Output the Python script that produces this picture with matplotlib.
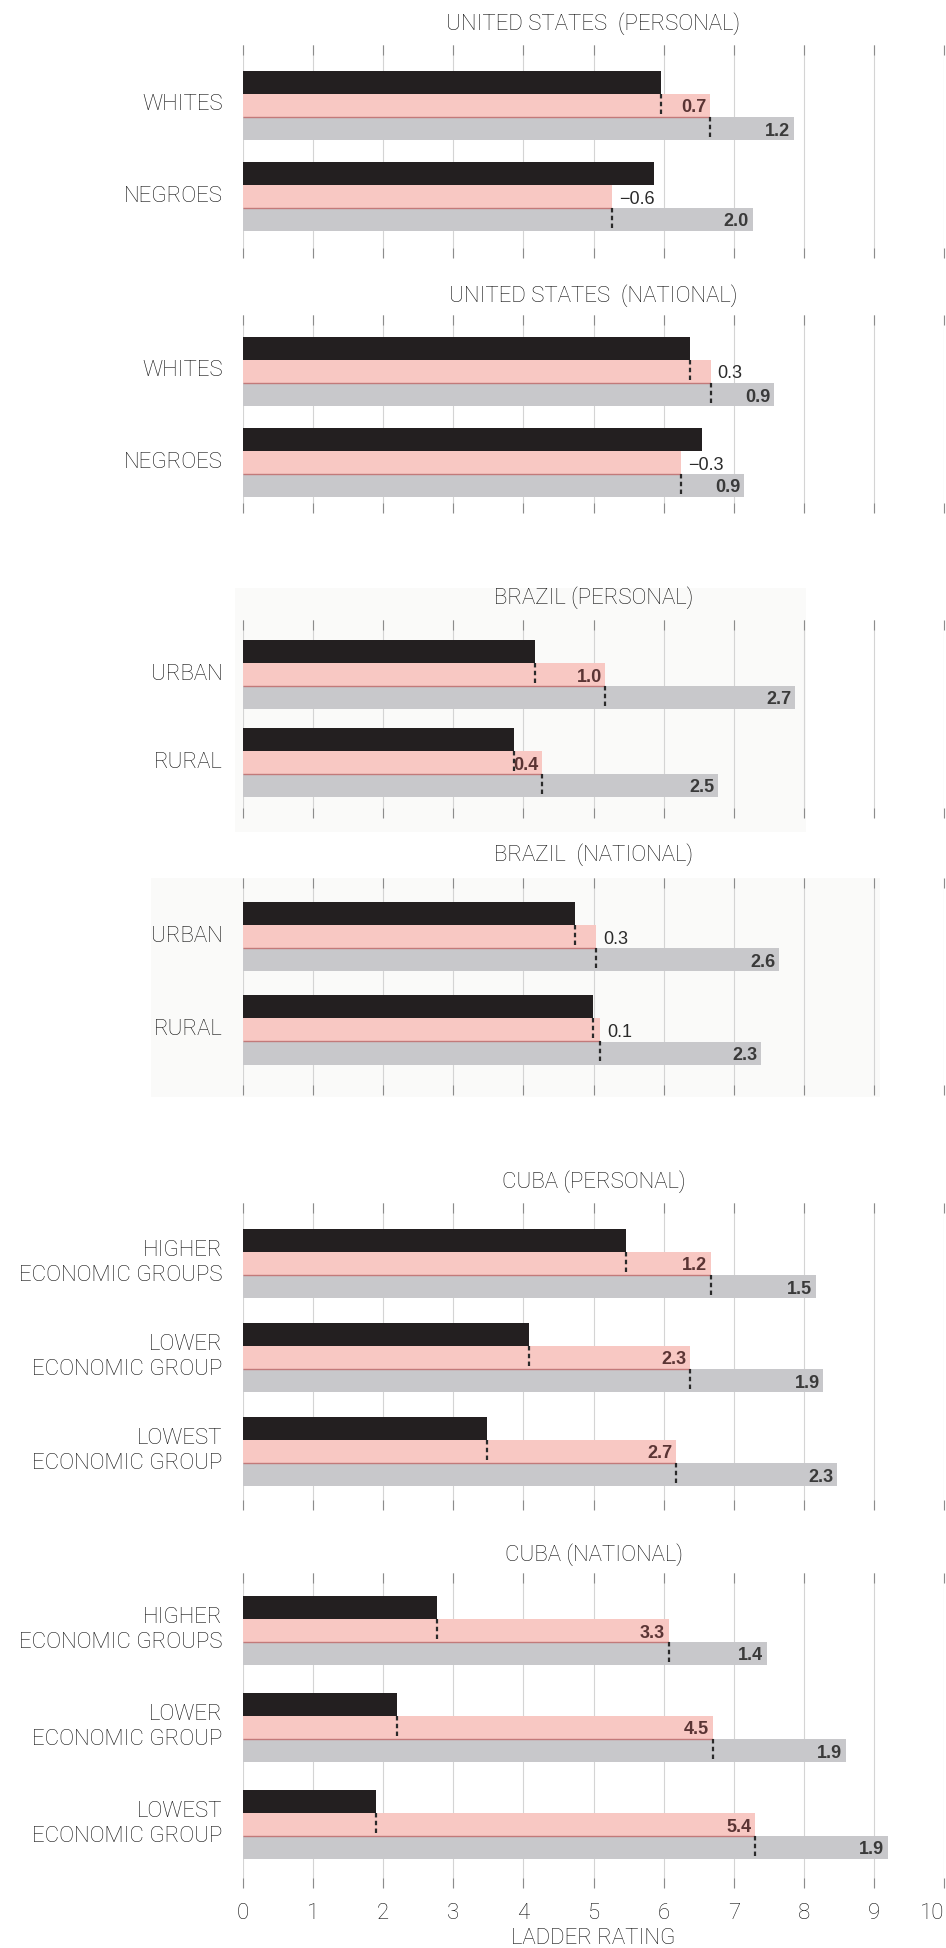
import matplotlib
matplotlib.use("Agg")
import matplotlib.pyplot as plt
from matplotlib.patches import Rectangle

# ---------------------------------------------------------------- data
panel_titles = [
    "UNITED STATES  (PERSONAL)",
    "UNITED STATES  (NATIONAL)",
    "BRAZIL (PERSONAL)",
    "BRAZIL  (NATIONAL)",
    "CUBA (PERSONAL)",
    "CUBA (NATIONAL)",
]

us_groups = ["WHITES", "NEGROES"]
brazil_groups = ["URBAN", "RURAL"]
cuba_groups = ["HIGHER\nECONOMIC GROUPS", "LOWER\nECONOMIC GROUP", "LOWEST\nECONOMIC GROUP"]

# ladder rating five years ago (black bars)
us_personal_past = [5.96, 5.87]
us_national_past = [6.37, 6.55]
brazil_personal_past = [4.17, 3.87]
brazil_national_past = [4.74, 4.99]
cuba_personal_past = [5.47, 4.08, 3.48]
cuba_national_past = [2.77, 2.20, 1.90]

# shift from past to present (pink bars)
us_personal_shift_present = [0.7, -0.6]
us_national_shift_present = [0.3, -0.3]
brazil_personal_shift_present = [1.0, 0.4]
brazil_national_shift_present = [0.3, 0.1]
cuba_personal_shift_present = [1.2, 2.3, 2.7]
cuba_national_shift_present = [3.3, 4.5, 5.4]

# shift from present to future (gray bars)
us_personal_shift_future = [1.2, 2.0]
us_national_shift_future = [0.9, 0.9]
brazil_personal_shift_future = [2.7, 2.5]
brazil_national_shift_future = [2.6, 2.3]
cuba_personal_shift_future = [1.5, 1.9, 2.3]
cuba_national_shift_future = [1.4, 1.9, 1.9]

x_ticks = list(range(0, 11))
x_label = "LADDER RATING"

panels = [
    (us_groups, us_personal_past, us_personal_shift_present, us_personal_shift_future),
    (us_groups, us_national_past, us_national_shift_present, us_national_shift_future),
    (brazil_groups, brazil_personal_past, brazil_personal_shift_present, brazil_personal_shift_future),
    (brazil_groups, brazil_national_past, brazil_national_shift_present, brazil_national_shift_future),
    (cuba_groups, cuba_personal_past, cuba_personal_shift_present, cuba_personal_shift_future),
    (cuba_groups, cuba_national_past, cuba_national_shift_present, cuba_national_shift_future),
]

# ---------------------------------------------------------------- layout (pixels)
W, H, DPI = 946, 1948, 100
X0, X1 = 243, 944            # pixel span of the 0..10 scale
BAR = 23                     # bar thickness in pixels
# title y, grid top, first group centre, group spacing, grid bottom
layout = [
    (24, 45, 105, 91, 258),
    (296, 315, 371, 91, 513),
    (598, 620, 674, 88, 818),
    (855, 878, 937, 93, 1095),
    (1182, 1203, 1263, 94, 1510),
    (1555, 1573, 1630, 97, 1888),
]

BLACK = "#231f20"
PINK = "#f8c8c3"
GRAY = "#c8c8cb"
PINK_EDGE = "#c27a7a"
GRID = "#d4d4d4"
TEXT = "#111111"

LABEL_FONT = ["Roboto", "DejaVu Sans"]
LABEL_SIZE = 16
LABEL_WEIGHT = "light"
VALUE_FONT = ["Liberation Sans Narrow", "Liberation Sans", "DejaVu Sans"]

fig = plt.figure(figsize=(W / DPI, H / DPI), dpi=DPI)
fig.patch.set_facecolor("white")

# faint paper tone behind the two Brazil panels
for (x0, y0, x1, y1) in [(235, 588, 806, 832), (151, 878, 880, 1097)]:
    fig.add_artist(Rectangle((x0 / W, 1 - y1 / H), (x1 - x0) / W, (y1 - y0) / H,
                             transform=fig.transFigure, facecolor="#fafaf9",
                             edgecolor="none", zorder=-5))

fmt = lambda v: ("\u2212" if v < 0 else "") + f"{abs(v):.1f}"

for k, ((groups, past, d_pres, d_fut), (ty, gtop, c0, sp, gbot)) in enumerate(zip(panels, layout)):
    ax = fig.add_axes([X0 / W, 1 - gbot / H, (X1 - X0) / W, (gbot - gtop) / H])
    ax.set_facecolor("none")
    ax.set_xlim(0, 10)
    ax.set_ylim(gbot - gtop, 0)
    for s in ax.spines.values():
        s.set_visible(False)
    ax.set_xticks(x_ticks)
    ax.set_yticks([])
    ax.grid(axis="x", color=GRID, lw=0.8, zorder=0)
    ax.set_axisbelow(True)
    last = k == len(panels) - 1
    ax.tick_params(axis="x", direction="in", length=7, width=0.8, color="#8c8c8c",
                   top=True, bottom=True, labelbottom=last, pad=11,
                   labelsize=LABEL_SIZE, labelcolor=TEXT)
    if last:
        labels = ax.get_xticklabels()
        for t in labels:
            t.set_fontfamily(LABEL_FONT)
            t.set_fontweight(LABEL_WEIGHT)
        labels[-1].set_horizontalalignment("right")
        labels[-1].set_x(10.04)

    present = [p + d for p, d in zip(past, d_pres)]
    future = [p + d for p, d in zip(present, d_fut)]
    yc = [c0 - gtop + i * sp for i in range(len(groups))]
    y_black = [y - BAR for y in yc]
    y_gray = [y + BAR for y in yc]

    ax.barh(y_gray, future, height=BAR, color=GRAY, zorder=2)
    ax.barh(yc, present, height=BAR, color=PINK, zorder=3)
    ax.barh(y_black, past, height=BAR, color=BLACK, zorder=4)
    ax.hlines([y + BAR / 2 for y in yc], 0, present, color=PINK_EDGE, lw=1.0, zorder=3.5)

    for i in range(len(groups)):
        # dashed markers where each shift begins
        if d_pres[i] > 0:
            ax.vlines(past[i], yc[i] - BAR / 2, yc[i] + BAR / 2, colors="#2a2a2a",
                      linestyles=(0, (2, 1.5)), lw=1.6, zorder=5)
        ax.vlines(present[i], y_gray[i] - BAR / 2, y_gray[i] + BAR / 2, colors="#2a2a2a",
                  linestyles=(0, (2, 1.5)), lw=1.6, zorder=5)

        # present shift label
        if d_pres[i] >= 0.4:
            ax.text(present[i] - 0.05, yc[i] + 3, fmt(d_pres[i]), ha="right", va="center",
                    fontsize=13, fontweight="bold", color="#5a3434",
                    family=VALUE_FONT, zorder=6)
        else:
            ax.text(max(present[i], past[i] if d_pres[i] > 0 else present[i]) + 0.1,
                    yc[i] + 3, fmt(d_pres[i]), ha="left", va="center",
                    fontsize=13, color="#2a2a2a", family=VALUE_FONT, zorder=6)
        # future shift label
        ax.text(future[i] - 0.05, y_gray[i] + 3, fmt(d_fut[i]), ha="right", va="center",
                fontsize=13, fontweight="bold", color="#3a3a3a",
                family=VALUE_FONT, zorder=6)

        # group label
        ax.text(-0.29, yc[i], groups[i], ha="right", va="center", fontsize=LABEL_SIZE,
                color=TEXT, family=LABEL_FONT, fontweight=LABEL_WEIGHT,
                linespacing=1.25, clip_on=False)

    fig.text((X0 + X1) / 2 / W, 1 - ty / H, panel_titles[k], ha="center", va="center",
             fontsize=LABEL_SIZE, color=TEXT, family=LABEL_FONT, fontweight=LABEL_WEIGHT)

fig.text((X0 + X1) / 2 / W, 1 - 1938 / H, x_label, ha="center", va="center",
         fontsize=LABEL_SIZE, color=TEXT, family=LABEL_FONT, fontweight=LABEL_WEIGHT)

fig.savefig("out.png", dpi=DPI, facecolor="white")
